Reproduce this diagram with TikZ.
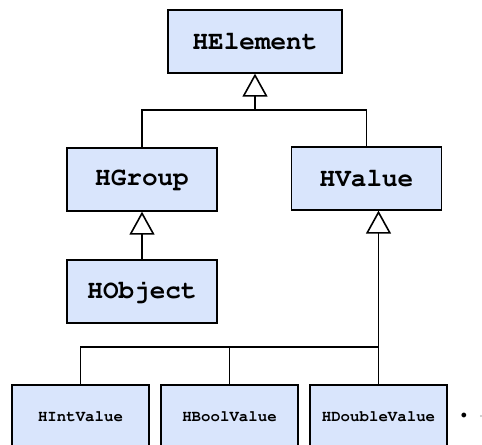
\documentclass[tikz,border=0pt]{standalone}
\usepackage[T1]{fontenc}
\usepackage{courier}
\usetikzlibrary{arrows.meta}
\definecolor{classfill}{RGB}{217,229,252}
\tikzset{
  classbox/.style={draw=black,fill=classfill,line width=1.2pt,
    minimum width=112.5pt,minimum height=47pt,inner sep=0pt,
    font=\ttfamily\bfseries\fontsize{19.5}{22}\selectfont},
  leafbox/.style={classbox,minimum width=102.75pt,
    font=\ttfamily\bfseries\fontsize{11.8}{14}\selectfont},
  inherit/.style={line width=1.2pt,
    -{Triangle[open,width=18.75pt,length=17.25pt,line width=1.2pt]}},
  link/.style={line width=1.2pt}
}
\begin{document}
\begin{tikzpicture}[x=0.75pt,y=-0.75pt]
  \useasboundingbox (0,0) rectangle (482,444);
  \node[classbox,minimum width=130.5pt] (helement) at (255,41.5) {HElement};
  \node[classbox] (hgroup) at (142,179.5) {HGroup};
  \node[classbox] (hvalue) at (366.5,178.5) {HValue};
  \node[classbox] (hobject) at (142,291.5) {HObject};
  \node[leafbox] (hint) at (80.5,416.5) {HIntValue};
  \node[leafbox] (hbool) at (229.5,416.5) {HBoolValue};
  \node[leafbox] (hdouble) at (378.5,416.5) {HDoubleValue};
  % joints where the branches meet
  \coordinate (topjoin) at (255,110);
  \coordinate (valjoin) at (378.5,347);
  \draw[link] (hgroup.north) |- (topjoin) -| (hvalue.north);
  \draw[inherit] (topjoin) -- (helement.south);
  \draw[inherit] (hobject.north) -- (hgroup.south);
  \draw[link] (hint.north) |- (valjoin);
  \draw[link] (hbool.north) -- (hbool.north |- valjoin);
  \draw[inherit] (hdouble.north) -- (hdouble.north |- hvalue.south);
  % trailing marks at the right
  \node[inner sep=0pt,font=\small] (mark) at (464,416) {$\bullet$};
  \fill[black!25] (481,416) circle[radius=1.2];
\end{tikzpicture}
\end{document}
